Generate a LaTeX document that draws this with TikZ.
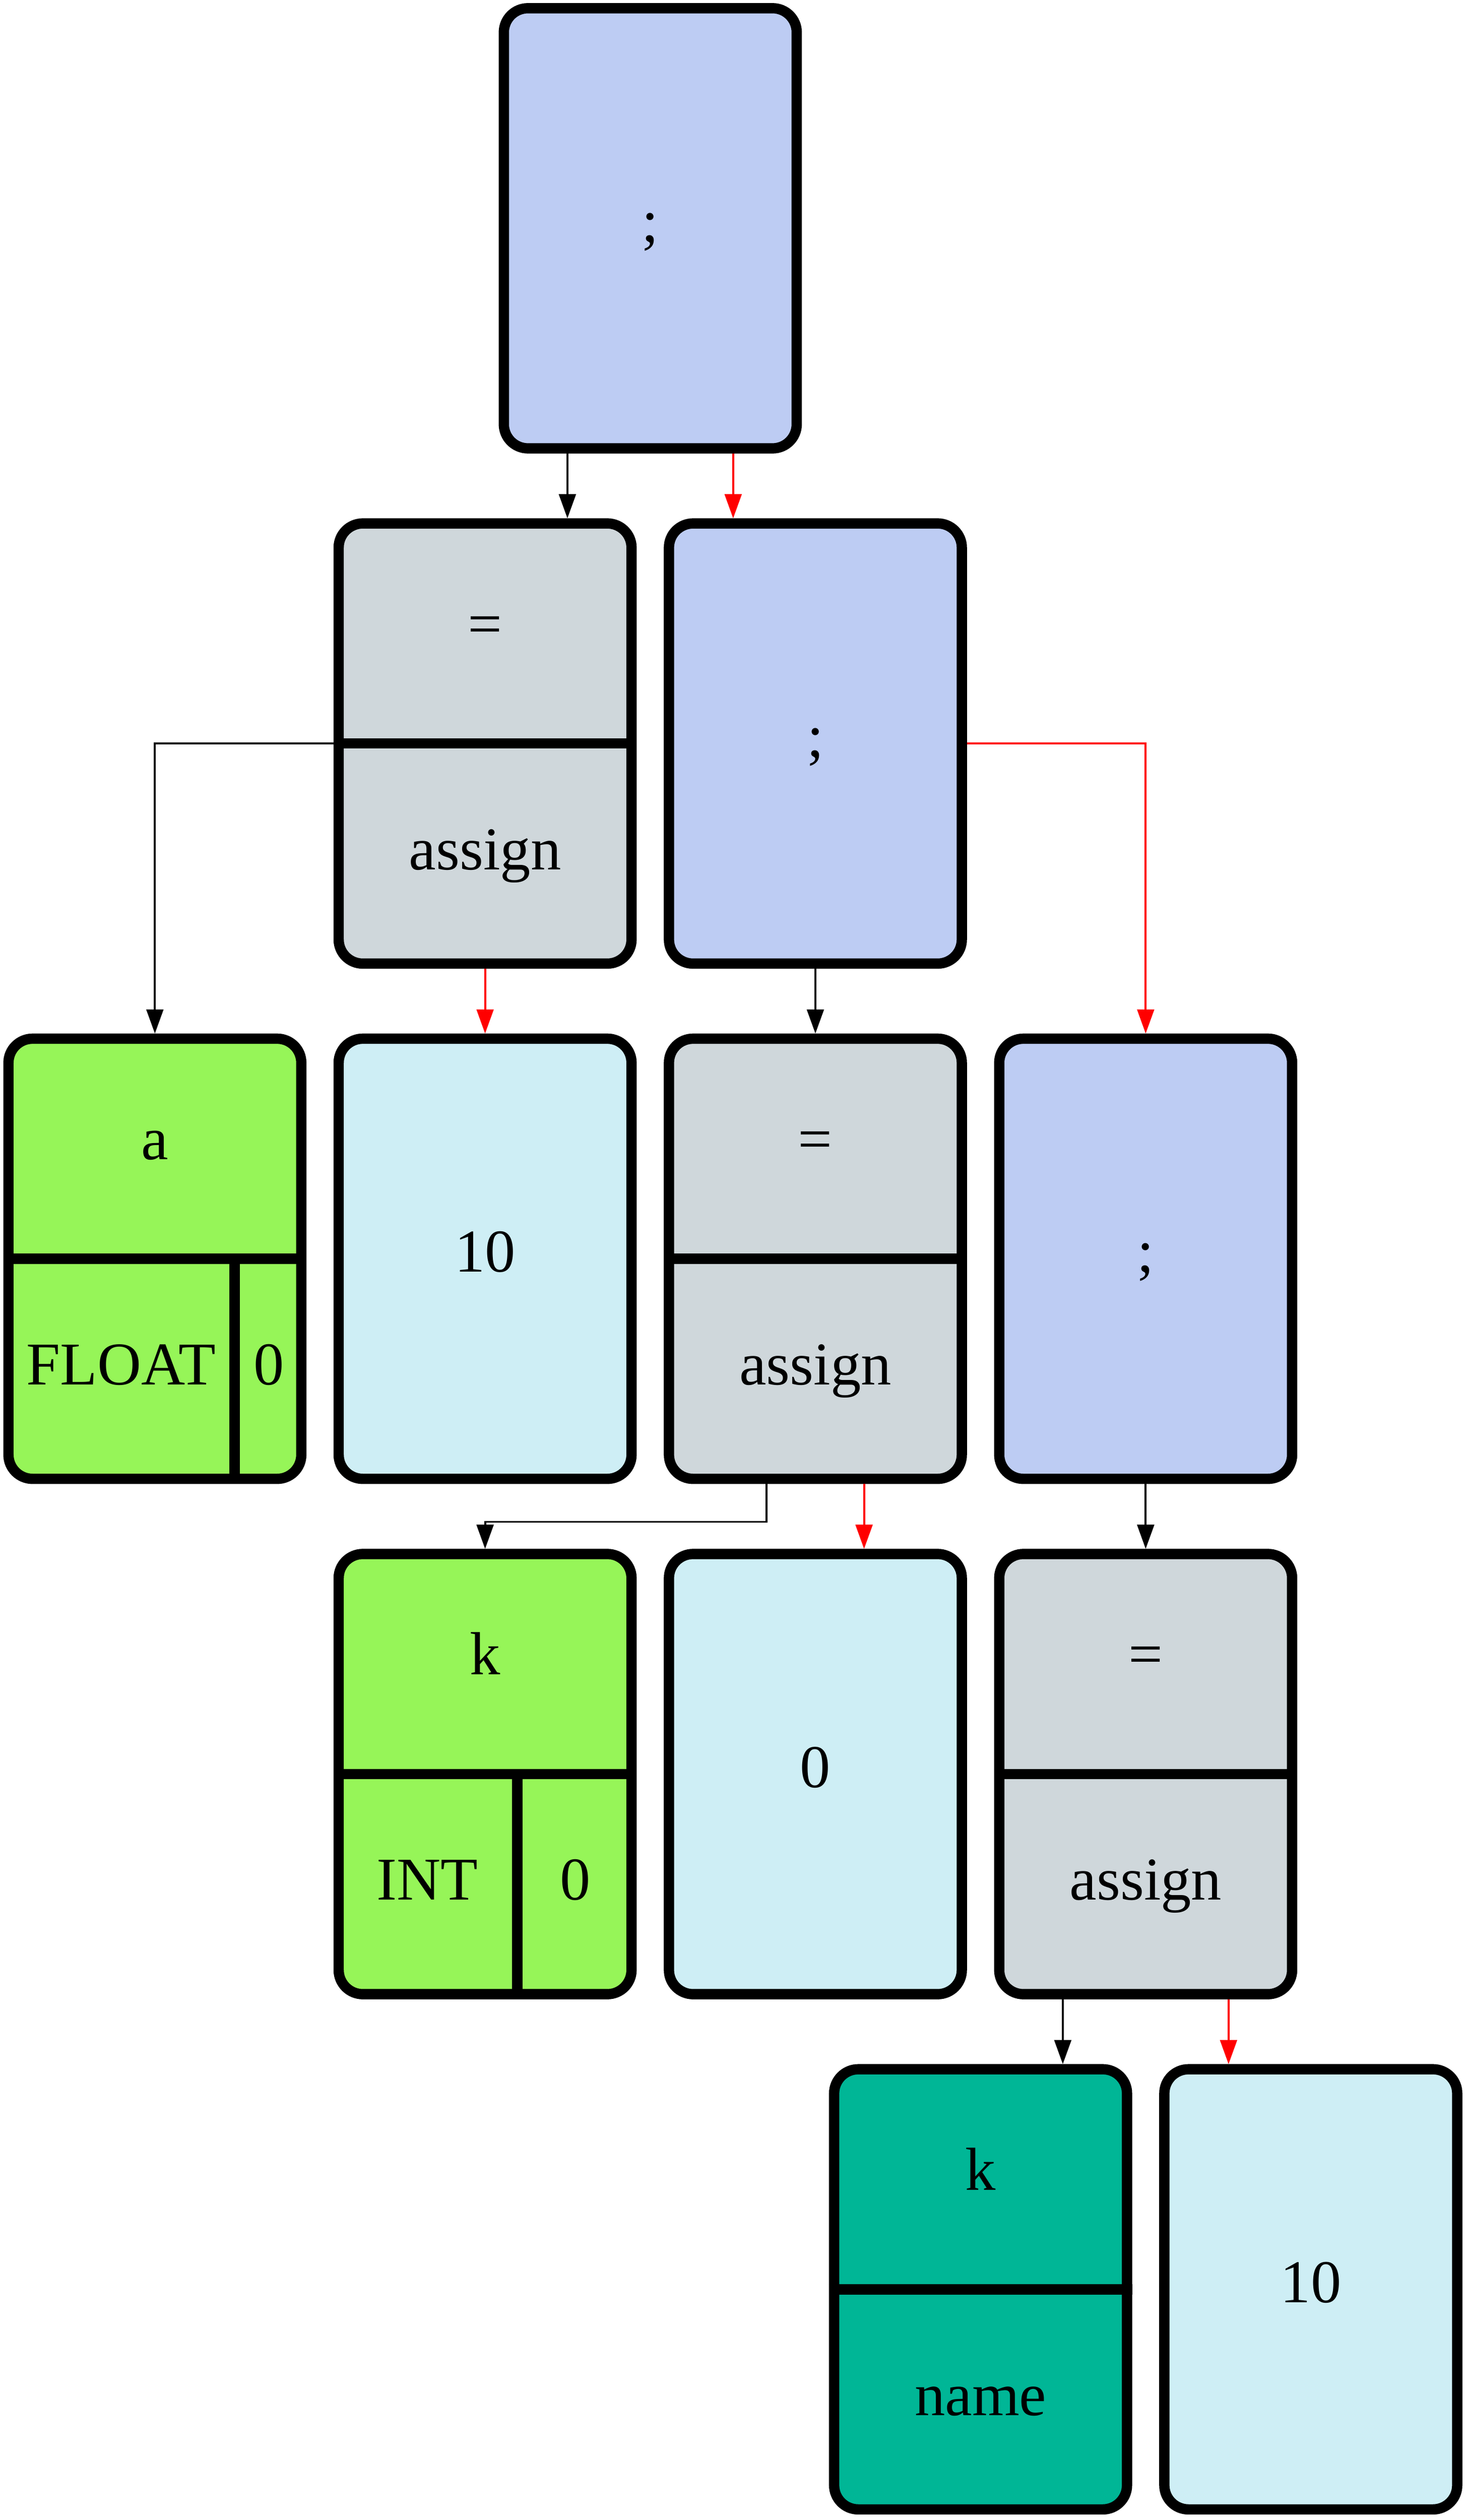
\documentclass[tikz,border=0pt]{standalone}
\usepackage{fontspec}
\setmainfont{Liberation Serif}
\usetikzlibrary{arrows.meta}
\definecolor{semiblue}{RGB}{189,204,243}
\definecolor{asggray}{RGB}{207,215,219}
\definecolor{vargreen}{RGB}{150,245,88}
\definecolor{numcyan}{RGB}{206,238,245}
\definecolor{nameteal}{RGB}{0,182,150}
\newcommand{\bigtext}{\fontsize{21.5}{26}\selectfont}

\begin{document}
\begin{tikzpicture}[
    >={Triangle[length=3mm,width=2.1mm]},
    box/.style={draw, line width=1.28mm, rounded corners=3mm,
        minimum width=3.64cm, minimum height=5.47cm, inner sep=0pt,
        font=\bigtext, text height=5mm, text depth=1.7mm},
    part/.style={inner sep=0pt, font=\bigtext, text height=5mm, text depth=1.7mm},
    rule/.style={line width=1.28mm},
    edge/.style={->, line width=0.7pt},
]
    \useasboundingbox (0,0) rectangle (18.219,-31.317);

    % row 1
    \node[box, fill=semiblue] (semi1) at (8.082,-2.837) {;};
    % row 2
    \node[box, fill=asggray] (asg1) at (6.029,-9.240) {};
    \node[box, fill=semiblue] (semi2) at (10.134,-9.240) {;};
    % row 3
    \node[box, fill=vargreen] (var1) at (1.925,-15.643) {};
    \node[box, fill=numcyan] (num1) at (6.029,-15.643) {10};
    \node[box, fill=asggray] (asg2) at (10.134,-15.643) {};
    \node[box, fill=semiblue] (semi3) at (14.239,-15.643) {;};
    % row 4
    \node[box, fill=vargreen] (var2) at (6.029,-22.047) {};
    \node[box, fill=numcyan] (num2) at (10.134,-22.047) {0};
    \node[box, fill=asggray] (asg3) at (14.239,-22.047) {};
    % row 5
    \node[box, fill=nameteal] (name1) at (12.187,-28.450) {};
    \node[box, fill=numcyan] (num3) at (16.291,-28.450) {10};

    % record parts
    \foreach \n/\top/\bot in {asg1/=/assign, asg2/=/assign, asg3/=/assign, name1/k/name} {
        \draw[rule] (\n.west) -- (\n.east);
        \node[part] (\n-top) at ([yshift=1.4cm]\n.center) {\top};
        \node[part] (\n-bot) at ([yshift=-1.4cm]\n.center) {\bot};
    }
    \draw[rule] (var1.west) -- (var1.east);
    \draw[rule] ([xshift=0.99cm]var1.center) -- ([xshift=0.99cm]var1.south);
    \node[part] (var1-top) at ([yshift=1.4cm]var1.center) {a};
    \node[part] (var1-type) at ([xshift=-0.42cm,yshift=-1.4cm]var1.center) {FLOAT};
    \node[part] (var1-val) at ([xshift=1.42cm,yshift=-1.4cm]var1.center) {0};
    \draw[rule] (var2.west) -- (var2.east);
    \draw[rule] ([xshift=0.4cm]var2.center) -- ([xshift=0.4cm]var2.south);
    \node[part] (var2-top) at ([yshift=1.4cm]var2.center) {k};
    \node[part] (var2-type) at ([xshift=-0.72cm,yshift=-1.4cm]var2.center) {INT};
    \node[part] (var2-val) at ([xshift=1.12cm,yshift=-1.4cm]var2.center) {0};

    % edges
    \draw[edge] ([xshift=-1.03cm]semi1.south) -- ([xshift=-1.03cm]semi1.south |- asg1.north);
    \draw[edge, red] ([xshift=1.03cm]semi1.south) -- ([xshift=1.03cm]semi1.south |- semi2.north);
    \draw[edge] (asg1.west) -| (var1.north);
    \draw[edge, red] (asg1.south) -- (num1.north);
    \draw[edge] (semi2.south) -- (asg2.north);
    \draw[edge, red] (semi2.east) -| (semi3.north);
    \draw[edge] ([xshift=-0.605cm]asg2.south) -- ++(0,-0.47) -| (var2.north);
    \draw[edge, red] ([xshift=0.605cm]asg2.south) -- ([xshift=0.605cm]asg2.south |- num2.north);
    \draw[edge] (semi3.south) -- (asg3.north);
    \draw[edge] ([xshift=-1.03cm]asg3.south) -- ([xshift=-1.03cm]asg3.south |- name1.north);
    \draw[edge, red] ([xshift=1.03cm]asg3.south) -- ([xshift=1.03cm]asg3.south |- num3.north);
\end{tikzpicture}
\end{document}
